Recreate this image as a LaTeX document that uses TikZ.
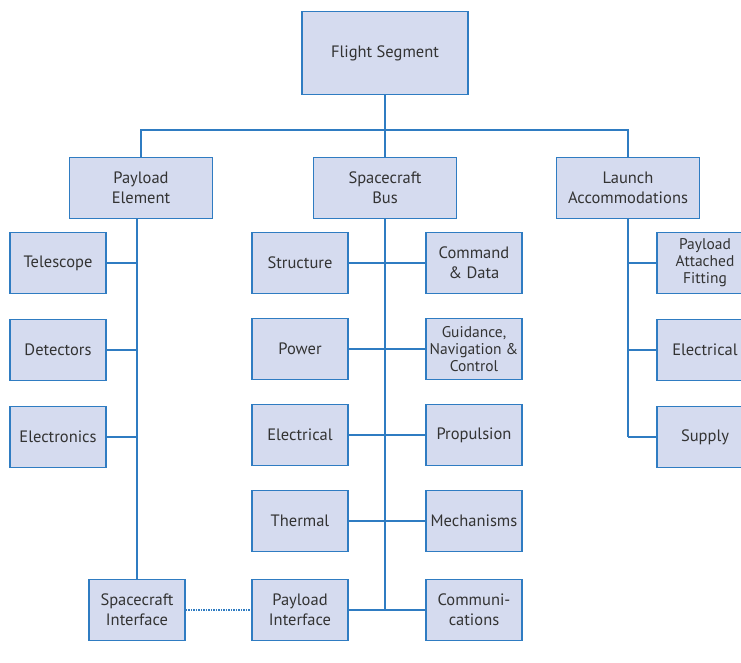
\documentclass[tikz,border=0pt]{standalone}
\usepackage{fontspec}
\setmainfont{PT Sans}
\usetikzlibrary{positioning}
\definecolor{SegBlue}{HTML}{2F7CC2}
\definecolor{SegFill}{HTML}{D5DBEF}
\definecolor{SegText}{HTML}{333333}

\begin{document}
\begin{tikzpicture}[x=1pt,y=-1pt,
    node distance=24.4pt,
    box/.style={rectangle,draw=SegBlue,line width=1.6pt,fill=SegFill,align=center,
      text=SegText,font=\fontsize{16.5}{20}\selectfont,inner sep=0pt,
      minimum width=96pt,minimum height=61pt},
    tight/.style={box,font=\fontsize{15.5}{17}\selectfont},
    wide/.style={box,minimum width=143pt},
    link/.style={draw=SegBlue,line width=1.3pt}
  ]
    \useasboundingbox (0,0) rectangle (741,663);
    \clip (0,0) rectangle (741,663);
    % top levels
    \node[box,minimum width=166pt,minimum height=83pt] (fs) at (385,53) {Flight Segment};
    \node[wide] (bus) at (385,188) {Spacecraft\\Bus};
    \node[wide,left=99.4pt of bus] (pe) {Payload\\Element};
    \node[wide,right=98.4pt of bus] (la) {Launch\\Accommodations};
    % payload element
    \node[box] (tel) at (58,263) {Telescope};
    \node[box,below=of tel] (det) {Detectors};
    \node[box,below=of det] (elec) {Electronics};
    \node[box] (si) at (137,610) {Spacecraft\\Interface};
    % spacecraft bus
    \node[box] (str) at (300,263) {Structure};
    \node[box,below=23.4pt of str] (pow) {Power};
    \node[box,below=23.4pt of pow] (ecl) {Electrical};
    \node[box,below=23.4pt of ecl] (thm) {Thermal};
    \node[box,below=26.4pt of thm] (pif) {Payload\\Interface};
    \node[box,right=76.4pt of str] (cmd) {Command\\\& Data};
    \node[tight,right=76.4pt of pow] (gnc) {Guidance,\\Navigation \&\\Control};
    \node[box,right=76.4pt of ecl] (prop) {Propulsion};
    \node[box,right=76.4pt of thm] (mech) {Mechanisms};
    \node[box,right=76.4pt of pif] (comm) {Communi-\\cations};
    % launch accommodations
    \node[tight] (paf) at (705,263) {Payload\\Attached\\Fitting};
    \node[box,below=of paf] (lael) {Electrical};
    \node[box,below=of lael] (sup) {Supply};
    % connectors
    \coordinate (split) at (385,130);
    \draw[link] (fs) -- (split);
    \draw[link] (pe) |- (split) -| (la);
    \draw[link] (split) -- (bus);
    \draw[link] (si) -- (si |- pe.south);
    \foreach \n in {tel,det,elec}
      \draw[link] (\n) -- (\n -| si);
    \draw[link,dash pattern=on 1.5pt off 1pt] (si) -- (pif);
    \draw[link] (bus) -- (bus |- pif);
    \foreach \a/\b in {str/cmd,pow/gnc,ecl/prop,thm/mech,pif/comm}
      \draw[link] (\a) -- (\b);
    \draw[link] (la) -- (la |- sup);
    \foreach \n in {paf,lael,sup}
      \draw[link] (\n) -- (\n -| la);
\end{tikzpicture}
\end{document}
